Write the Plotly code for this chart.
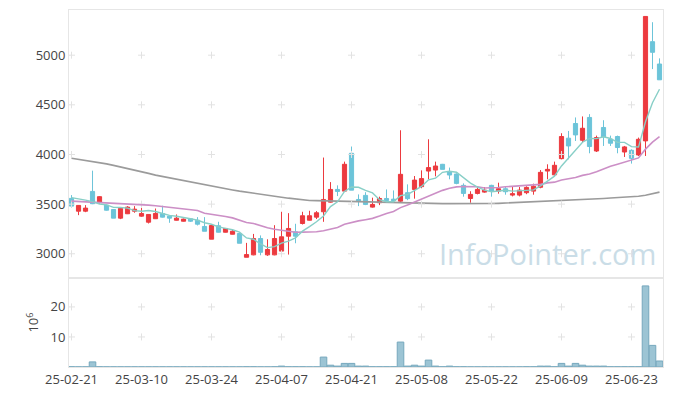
import plotly.graph_objects as go
from plotly.subplots import make_subplots
import pandas as pd

# ---------------- data ----------------
dates = [
    "2025-02-21", "2025-02-24", "2025-02-25", "2025-02-26", "2025-02-27", "2025-02-28",
    "2025-03-04", "2025-03-05", "2025-03-06", "2025-03-07",
    "2025-03-10", "2025-03-11", "2025-03-12", "2025-03-13", "2025-03-14",
    "2025-03-17", "2025-03-18", "2025-03-19", "2025-03-20", "2025-03-21",
    "2025-03-24", "2025-03-25", "2025-03-26", "2025-03-27", "2025-03-28",
    "2025-03-31", "2025-04-01", "2025-04-02", "2025-04-03", "2025-04-04",
    "2025-04-07", "2025-04-08", "2025-04-09", "2025-04-10", "2025-04-11",
    "2025-04-14", "2025-04-15", "2025-04-16", "2025-04-17", "2025-04-18",
    "2025-04-21", "2025-04-22", "2025-04-23", "2025-04-24", "2025-04-25",
    "2025-04-28", "2025-04-29", "2025-04-30", "2025-05-02",
    "2025-05-07", "2025-05-08", "2025-05-09",
    "2025-05-12", "2025-05-13", "2025-05-14", "2025-05-15", "2025-05-16",
    "2025-05-19", "2025-05-20", "2025-05-21", "2025-05-22", "2025-05-23",
    "2025-05-26", "2025-05-27", "2025-05-28", "2025-05-29", "2025-05-30",
    "2025-06-02", "2025-06-04", "2025-06-05",
    "2025-06-09", "2025-06-10", "2025-06-11", "2025-06-12", "2025-06-13",
    "2025-06-16", "2025-06-17", "2025-06-18", "2025-06-19", "2025-06-20",
    "2025-06-23", "2025-06-24", "2025-06-25", "2025-06-26", "2025-06-27",
]

opens = [3558, 3429, 3429, 3628, 3520, 3490, 3446, 3359, 3403, 3429,
         3379, 3318, 3353, 3406, 3379, 3338, 3328, 3352, 3338, 3275,
         3147, 3282, 3217, 3197, 3204, 2965, 2989, 3154, 2989, 2989,
         3027, 3177, 3221, 3305, 3338, 3369, 3423, 3520, 3648, 3631,
         4012, 3547, 3588, 3470, 3514, 3557, 3550, 3530, 3615, 3648,
         3676, 3833, 3843, 3901, 3823, 3803, 3689, 3557, 3608, 3621,
         3689, 3631, 3655, 3591, 3591, 3615, 3631, 3670, 3833, 3795,
         3958, 4164, 4312, 4143, 4373, 4035, 4272, 4153, 4181, 4025,
         4042, 3995, 4137, 5136, 4911]
highs = [3591, 3490, 3490, 3837, 3580, 3495, 3446, 3460, 3480, 3480,
         3463, 3396, 3456, 3484, 3382, 3396, 3355, 3355, 3369, 3369,
         3290, 3322, 3260, 3244, 3210, 3110, 3200, 3185, 3146, 3288,
         3423, 3409, 3302, 3423, 3433, 3430, 3969, 3722, 3689, 3928,
         4080, 3598, 3620, 3565, 3575, 3648, 3638, 4244, 3699, 3783,
         3840, 4153, 3928, 3905, 3868, 3810, 3709, 3630, 3672, 3672,
         3695, 3716, 3675, 3680, 3672, 3680, 3706, 3843, 3901, 3928,
         4214, 4237, 4373, 4383, 4406, 4190, 4345, 4190, 4190, 4086,
         4052, 4170, 5390, 5332, 4968]
lows = [3464, 3389, 3419, 3500, 3504, 3435, 3359, 3349, 3400, 3413,
        3373, 3305, 3350, 3365, 3312, 3335, 3325, 3320, 3285, 3227,
        3147, 3215, 3215, 3195, 3106, 2965, 2985, 2985, 2979, 2985,
        3000, 2992, 3106, 3295, 3335, 3350, 3322, 3515, 3581, 3625,
        3641, 3480, 3490, 3465, 3490, 3530, 3530, 3514, 3540, 3555,
        3660, 3750, 3780, 3850, 3750, 3700, 3575, 3514, 3598, 3615,
        3575, 3605, 3595, 3578, 3578, 3600, 3595, 3660, 3750, 3780,
        3951, 3951, 4136, 4120, 4012, 4025, 4086, 4086, 4012, 3975,
        3908, 3985, 3985, 4860, 4752]
closes = [3480, 3487, 3460, 3504, 3575, 3439, 3359, 3457, 3470, 3449,
          3406, 3396, 3406, 3369, 3359, 3359, 3349, 3328, 3298, 3227,
          3285, 3217, 3255, 3227, 3106, 2992, 3154, 3015, 3043, 3154,
          3171, 3255, 3177, 3383, 3383, 3413, 3547, 3648, 3628, 3901,
          3641, 3530, 3497, 3497, 3557, 3537, 3535, 3800, 3555, 3742,
          3757, 3868, 3884, 3850, 3793, 3709, 3608, 3598, 3648, 3641,
          3631, 3655, 3625, 3605, 3641, 3668, 3680, 3820, 3850, 3891,
          4181, 4086, 4197, 4264, 4080, 4171, 4177, 4113, 4070, 4076,
          3961, 4153, 5390, 5029, 4752]

# volume in millions of shares
volume_m = [0.08, 0.05, 0.05, 1.7, 0.08, 0.05, 0.05, 0.05, 0.05, 0.05,
            0.05, 0.05, 0.05, 0.05, 0.05, 0.05, 0.05, 0.05, 0.05, 0.05,
            0.05, 0.05, 0.05, 0.05, 0.05, 0.08, 0.08, 0.05, 0.05, 0.08,
            0.3, 0.08, 0.08, 0.08, 0.05, 0.05, 3.3, 0.6, 0.3, 1.2,
            1.2, 0.3, 0.3, 0.08, 0.08, 0.08, 0.08, 8.3, 0.3, 0.6,
            0.3, 2.3, 0.3, 0.08, 0.3, 0.08, 0.08, 0.05, 0.05, 0.05,
            0.05, 0.05, 0.05, 0.05, 0.05, 0.08, 0.08, 0.3, 0.3, 0.08,
            1.2, 0.3, 1.2, 0.6, 0.3, 0.3, 0.3, 0.08, 0.08, 0.08,
            0.08, 0.08, 27.0, 7.2, 2.0]

# moving-average values before enough closes exist
ma5_head = [3565, 3555, 3540, 3525]
ma20_head = [3530, 3527, 3524, 3521, 3518, 3515, 3512, 3508, 3503, 3498,
             3494, 3490, 3484, 3477, 3470, 3462, 3452, 3444, 3436]
ma60 = [3962, 3952, 3940, 3928, 3916, 3905, 3890, 3875, 3860, 3844,
        3828, 3810, 3792, 3778, 3763, 3748, 3734, 3720, 3707, 3693,
        3680, 3668, 3655, 3643, 3631, 3622, 3612, 3603, 3592, 3581,
        3570, 3560, 3550, 3540, 3537, 3535, 3533, 3531, 3530, 3528,
        3526, 3524, 3522, 3520, 3518, 3515, 3513, 3512, 3510, 3509,
        3508, 3507, 3505, 3505, 3505, 3504, 3504, 3504, 3504, 3504,
        3506, 3508, 3511, 3514, 3516, 3519, 3522, 3524, 3527, 3530,
        3534, 3538, 3542, 3546, 3550, 3553, 3557, 3561, 3565, 3568,
        3572, 3580, 3590, 3605, 3621]

price_ticks = [3000, 3500, 4000, 4500, 5000]
volume_ticks = [10, 20]
tick_step = 10

# ---------------- derived ----------------
cl = pd.Series(closes, dtype=float)
ma5 = cl.rolling(5).mean().tolist()
ma5[:len(ma5_head)] = ma5_head
ma20 = cl.rolling(20).mean().tolist()
ma20[:len(ma20_head)] = ma20_head

tick_dates = dates[::tick_step]
tick_text = [d[2:] for d in tick_dates]

RED = "#ec3a3f"
BLUE = "#6cc4d9"
FONT = "Open Sans"

fig = make_subplots(rows=2, cols=1, shared_xaxes=True, vertical_spacing=0,
                    row_heights=[0.751, 0.249])

fig.add_trace(go.Scatter(x=dates, y=ma60, mode="lines",
                         line=dict(color="#9b9b9b", width=1.6), showlegend=False),
              row=1, col=1)
fig.add_trace(go.Bar(x=dates, y=volume_m,
                     marker=dict(color="#9cc4d4", line=dict(color="#76a8bd", width=1)),
                     showlegend=False), row=2, col=1)

# faint "+" grid marks at tick intersections
gx = [d for d in tick_dates for _ in price_ticks]
gy = [v for _ in tick_dates for v in price_ticks]
fig.add_trace(go.Scatter(x=gx, y=gy, mode="markers", hoverinfo="skip",
                         marker=dict(symbol="cross-thin", size=5,
                                     line=dict(color="#e2e2e2", width=1)),
                         showlegend=False), row=1, col=1)
vx = [d for d in tick_dates for _ in volume_ticks]
vy = [v for _ in tick_dates for v in volume_ticks]
fig.add_trace(go.Scatter(x=vx, y=vy, mode="markers", hoverinfo="skip",
                         marker=dict(symbol="cross-thin", size=5,
                                     line=dict(color="#e2e2e2", width=1)),
                         showlegend=False), row=2, col=1)

fig.add_trace(go.Scatter(x=dates, y=ma20, mode="lines",
                         line=dict(color="#cc8fc6", width=1.6), showlegend=False),
              row=1, col=1)

fig.add_trace(go.Candlestick(
    x=dates, open=opens, high=highs, low=lows, close=closes,
    increasing=dict(line=dict(color=RED, width=1), fillcolor=RED),
    decreasing=dict(line=dict(color=BLUE, width=1), fillcolor=BLUE),
    whiskerwidth=0, showlegend=False), row=1, col=1)

fig.add_trace(go.Scatter(x=dates, y=ma5, mode="lines",
                         line=dict(color="#88cfc7", width=1.4), showlegend=False),
              row=1, col=1)

axis_common = dict(showline=True, linecolor="#e6e6e6", linewidth=1, mirror=True,
                   showgrid=False, zeroline=False, ticks="", automargin=False,
                   tickfont=dict(family=FONT, size=13, color="#444444"))

fig.update_xaxes(type="category", categoryorder="array", categoryarray=dates,
                 range=[-0.36, 84.5], **axis_common)
fig.update_xaxes(showticklabels=False, rangeslider=dict(visible=False), row=1, col=1)
fig.update_xaxes(tickmode="array", tickvals=tick_dates, ticktext=tick_text,
                 tickangle=0, showticklabels=True, row=2, col=1)

fig.update_yaxes(**axis_common)
fig.update_yaxes(range=[2755, 5455], tickmode="array", tickvals=price_ticks,
                 row=1, col=1)
fig.update_yaxes(range=[0, 29.6], tickmode="array", tickvals=volume_ticks,
                 title=dict(text="10<sup>6</sup>", standoff=8,
                            font=dict(family=FONT, size=13, color="#444444")),
                 row=2, col=1)

fig.add_annotation(text="InfoPointer.com", xref="paper", yref="paper",
                   x=0.991, y=0.317, xanchor="right", yanchor="middle",
                   showarrow=False,
                   font=dict(family=FONT, size=29, color="#cadde7"))

# the page body adds an 8px margin, so the figure is sized to fit inside it
fig.update_layout(width=657, height=380, margin=dict(l=61, r=2, t=2, b=21),
                  paper_bgcolor="white", plot_bgcolor="white",
                  boxgap=0.15, bargap=0.06, showlegend=False,
                  font=dict(family=FONT))

fig.write_html("out.html")
